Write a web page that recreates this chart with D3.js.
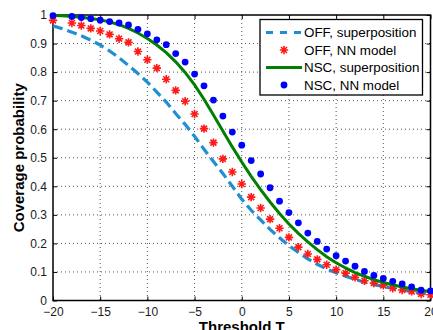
<!DOCTYPE html>
<html lang="en">
<head>
<meta charset="UTF-8">
<title>Coverage probability</title>
<script src="https://cdn.jsdelivr.net/npm/d3@7"></script>
<style>
  body { margin: 0; background: #fff; }
  text { font-family: "Liberation Sans", Arial, sans-serif; }
</style>
</head>
<body>
<div id="chart"></div>
<script>
// threshold values (dB)
let thresholds = d3.range(-20, 21);
// NN model markers skip T = -19
let markerT = thresholds.filter(function(t){ return t !== -19; });

let offSuper = [0.962, 0.952, 0.940, 0.927, 0.912, 0.895, 0.874, 0.850, 0.823, 0.795,
  0.765, 0.730, 0.695, 0.655, 0.617, 0.575, 0.530, 0.487, 0.445, 0.400,
  0.355, 0.316, 0.282, 0.249, 0.220, 0.192, 0.168, 0.146, 0.127, 0.110,
  0.097, 0.085, 0.074, 0.064, 0.056, 0.049, 0.042, 0.037, 0.031, 0.026, 0.022];

let nscSuper = [0.998, 0.997, 0.995, 0.992, 0.988, 0.983, 0.976, 0.966, 0.953, 0.937,
  0.918, 0.895, 0.868, 0.836, 0.799, 0.755, 0.705, 0.650, 0.594, 0.538,
  0.485, 0.435, 0.388, 0.345, 0.305, 0.268, 0.235, 0.205, 0.178, 0.153,
  0.132, 0.114, 0.098, 0.085, 0.073, 0.063, 0.055, 0.047, 0.041, 0.036, 0.031];

// values at markerT
let offNN = [0.981, 0.972, 0.963, 0.953, 0.944, 0.932, 0.917, 0.904, 0.872,
  0.843, 0.814, 0.775, 0.736, 0.698, 0.653, 0.602, 0.553, 0.496, 0.450,
  0.408, 0.362, 0.324, 0.285, 0.253, 0.221, 0.187, 0.163, 0.144, 0.125,
  0.108, 0.096, 0.081, 0.069, 0.061, 0.053, 0.043, 0.037, 0.032, 0.023, 0.020];

let nscNN = [0.998, 0.995, 0.991, 0.987, 0.982, 0.977, 0.972, 0.965, 0.950,
  0.934, 0.913, 0.896, 0.865, 0.835, 0.793, 0.752, 0.702, 0.646, 0.590,
  0.544, 0.490, 0.443, 0.395, 0.348, 0.308, 0.272, 0.236, 0.207, 0.180,
  0.157, 0.138, 0.120, 0.102, 0.088, 0.077, 0.067, 0.058, 0.048, 0.036, 0.034];

let xTicks = [-20, -15, -10, -5, 0, 5, 10, 15, 20];
let yTicks = [0, 0.1, 0.2, 0.3, 0.4, 0.5, 0.6, 0.7, 0.8, 0.9, 1];

let legendNames = ["OFF, superposition", "OFF, NN model", "NSC, superposition", "NSC, NN model"];

let blue = "#1e8fd2", red = "#ff1a1a", green = "#008000", dotBlue = "#0000ff";

let W = 433, H = 330;
let margin = {left: 53, right: 2.5, top: 15, bottom: 29.5};
let w = W - margin.left - margin.right, h = H - margin.top - margin.bottom;

let svg = d3.select("#chart").append("svg")
  .attr("width", W).attr("height", H);

let g = svg.append("g")
  .attr("transform", "translate(" + margin.left + "," + margin.top + ")");

let x = d3.scaleLinear().domain([-20, 20]).range([0, w]);
let y = d3.scaleLinear().domain([0, 1]).range([h, 0]);

// dotted grid
g.append("g").selectAll("line").data(xTicks.slice(1, -1)).enter().append("line")
  .attr("x1", function(d){ return x(d); }).attr("x2", function(d){ return x(d); })
  .attr("y1", 0).attr("y2", h)
  .attr("stroke", "#555").attr("stroke-width", 1).attr("stroke-dasharray", "1,3");
g.append("g").selectAll("line").data(yTicks.slice(1, -1)).enter().append("line")
  .attr("y1", function(d){ return y(d); }).attr("y2", function(d){ return y(d); })
  .attr("x1", 0).attr("x2", w)
  .attr("stroke", "#555").attr("stroke-width", 1).attr("stroke-dasharray", "1,3");

// axes
g.append("g").attr("transform", "translate(0," + h + ")")
  .call(d3.axisBottom(x).tickValues(xTicks).tickSizeInner(-4).tickSizeOuter(0).tickPadding(7)
    .tickFormat(function(d){ return d < 0 ? "\u2212" + Math.abs(d) : d; }));
g.append("g")
  .call(d3.axisLeft(y).tickValues(yTicks).tickSizeInner(-4).tickSizeOuter(0).tickPadding(6)
    .tickFormat(function(d){ return d; }));
g.append("g").attr("transform", "translate(" + w + ",0)")
  .call(d3.axisRight(y).tickValues(yTicks).tickSizeInner(-4).tickSizeOuter(0).tickFormat(""));
g.append("g")
  .call(d3.axisTop(x).tickValues(xTicks).tickSizeInner(-4).tickSizeOuter(0).tickFormat(""));

g.selectAll(".domain").remove();
g.selectAll(".tick line").attr("stroke", "#000");
g.selectAll(".tick text").attr("font-size", 12).attr("fill", "#1a1a1a")
  .attr("font-family", "Liberation Sans, Arial, sans-serif");

// box
g.append("rect").attr("width", w).attr("height", h)
  .attr("fill", "none").attr("stroke", "#000").attr("stroke-width", 1.5);

let line = d3.line()
  .x(function(d){ return x(d[0]); })
  .y(function(d){ return y(d[1]); });

// OFF superposition
g.append("path")
  .datum(thresholds.map(function(t, i){ return [t, offSuper[i]]; }))
  .attr("d", line).attr("fill", "none")
  .attr("stroke", blue).attr("stroke-width", 3.2).attr("stroke-dasharray", "10,5");

// OFF NN model (asterisks)
function star(r){
  let a = r * Math.SQRT1_2;
  return "M" + (-r) + ",0L" + r + ",0M0," + (-r) + "L0," + r +
    "M" + (-a) + "," + (-a) + "L" + a + "," + a +
    "M" + (-a) + "," + a + "L" + a + "," + (-a);
}
g.append("g").selectAll("path")
  .data(markerT.map(function(t, i){ return [t, offNN[i]]; }))
  .enter().append("path")
  .attr("transform", function(d){ return "translate(" + x(d[0]) + "," + y(d[1]) + ")"; })
  .attr("d", star(4.2)).attr("fill", "none")
  .attr("stroke", red).attr("stroke-width", 1.6);

// NSC superposition
g.append("path")
  .datum(thresholds.map(function(t, i){ return [t, nscSuper[i]]; }))
  .attr("d", line).attr("fill", "none")
  .attr("stroke", green).attr("stroke-width", 3);

// NSC NN model (dots)
g.append("g").selectAll("circle")
  .data(markerT.map(function(t, i){ return [t, nscNN[i]]; }))
  .enter().append("circle")
  .attr("cx", function(d){ return x(d[0]); })
  .attr("cy", function(d){ return y(d[1]); })
  .attr("r", 3.4).attr("fill", dotBlue);

// legend
let lg = svg.append("g").attr("transform", "translate(260,19.5)");
lg.append("rect").attr("width", 162.5).attr("height", 75.5)
  .attr("fill", "#fff").attr("stroke", "#000").attr("stroke-width", 1.3);

let items = lg.selectAll("g.item").data(legendNames).enter().append("g")
  .attr("class", "item")
  .attr("transform", function(d, i){ return "translate(0," + (13 + i * 17.5) + ")"; });

items.append("text").attr("x", 44).attr("y", 4.7)
  .attr("font-size", 13.4).attr("fill", "#000")
  .text(function(d){ return d; });

items.filter(function(d, i){ return i === 0; }).append("line")
  .attr("x1", 6).attr("x2", 42).attr("stroke", blue).attr("stroke-width", 3.2)
  .attr("stroke-dasharray", "7,7");
items.filter(function(d, i){ return i === 1; }).append("path")
  .attr("transform", "translate(24,0)").attr("d", star(4.2))
  .attr("fill", "none").attr("stroke", red).attr("stroke-width", 1.6);
items.filter(function(d, i){ return i === 2; }).append("line")
  .attr("x1", 6).attr("x2", 42).attr("stroke", green).attr("stroke-width", 3);
items.filter(function(d, i){ return i === 3; }).append("circle")
  .attr("cx", 24).attr("r", 3.4).attr("fill", dotBlue);

// axis labels
svg.append("text")
  .attr("transform", "translate(24," + (margin.top + h / 2) + ") rotate(-90)")
  .attr("text-anchor", "middle").attr("font-size", 15).attr("font-weight", "bold")
  .text("Coverage probability");

svg.append("text")
  .attr("x", margin.left + w / 2).attr("y", 331.5)
  .attr("text-anchor", "middle").attr("font-size", 15).attr("font-weight", "bold")
  .text("Threshold T");
</script>
</body>
</html>
